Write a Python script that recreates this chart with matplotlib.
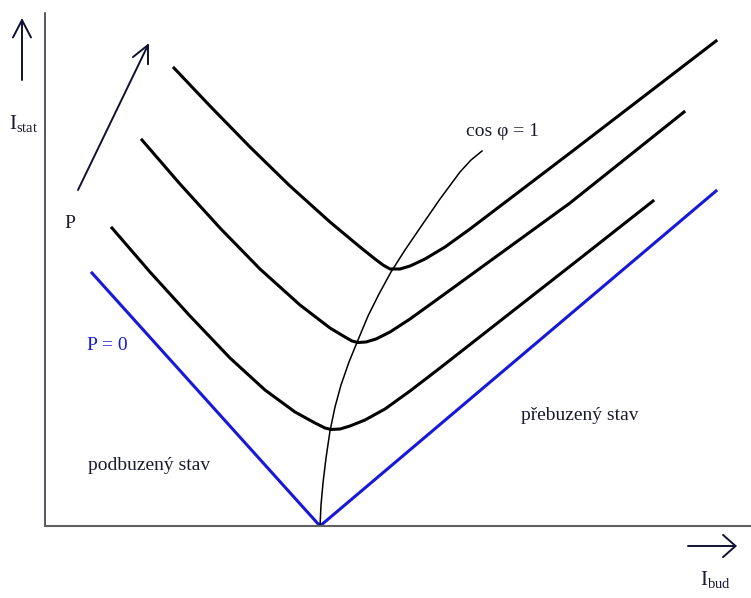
import matplotlib
matplotlib.use("Agg")
import matplotlib.pyplot as plt

plt.rcParams["font.family"] = ["Liberation Serif", "DejaVu Serif"]
plt.rcParams["mathtext.fontset"] = "custom"
plt.rcParams["mathtext.rm"] = "Liberation Serif"
plt.rcParams["mathtext.it"] = "Liberation Serif"

# V-curves of a synchronous machine: stator current vs. excitation current
# (arbitrary units)
p0_x = [4.7, 27.5, 67.1]
p0_y = [25.3, 0.0, 33.5]

p1_x = [6.7, 10.5, 14.5, 18.5, 22.0, 25.0, 27.0, 28.0, 28.6, 29.5, 30.5,
        32.0, 34.0, 36.5, 39.5, 53.3, 60.8]
p1_y = [29.8, 25.4, 21.0, 16.8, 13.6, 11.4, 10.3, 9.8, 9.65, 9.7, 10.0,
        10.6, 11.7, 13.5, 15.8, 26.6, 32.5]

p2_x = [9.7, 13.5, 17.5, 21.5, 25.5, 28.5, 30.0, 30.7, 31.3, 32.1, 33.1,
        34.5, 36.5, 39.0, 52.5, 63.9]
p2_y = [38.6, 34.2, 29.8, 25.7, 22.1, 19.8, 18.9, 18.5, 18.35, 18.4, 18.7,
        19.4, 20.7, 22.5, 32.3, 41.4]

p3_x = [12.9, 16.5, 20.5, 24.5, 28.5, 31.5, 33.0, 33.8, 34.5, 35.5, 36.5,
        38.0, 40.0, 42.5, 52.5, 67.1]
p3_y = [45.8, 42.0, 37.9, 34.0, 30.4, 27.9, 26.7, 26.1, 25.7, 25.7, 26.0,
        26.7, 27.9, 29.7, 37.3, 48.5]

# locus of unity power factor (minima of the V-curves)
cos1_x = [27.5, 27.6, 27.8, 28.1, 28.5, 29.0, 29.6, 30.4, 31.3, 32.3, 33.4,
          34.6, 36.0, 37.5, 39.5, 41.5, 42.6, 43.7]
cos1_y = [0.0, 2.1, 4.3, 6.8, 9.5, 11.9, 14.1, 16.4, 18.6, 21.0, 23.2,
          25.4, 27.6, 29.8, 32.7, 35.4, 36.6, 37.5]

W, H = 751, 598
fig = plt.figure(figsize=(W / 100, H / 100), dpi=100)


def fx(px):
    return px / W


def fy(py):
    return 1 - py / H


ax = fig.add_axes([fx(45), fy(526), fx(751) - fx(45), fy(13) - fy(526)])
ax.set_xlim(0, 70.6)
ax.set_ylim(0, 51.3)
for s in ("top", "right"):
    ax.spines[s].set_visible(False)
ax.spines["left"].set_color("#2a2a40")
ax.spines["left"].set_linewidth(1.1)
ax.spines["bottom"].set_color("#606060")
ax.spines["bottom"].set_linewidth(1.5)
ax.set_xticks([])
ax.set_yticks([])

blue = "#1818d8"
txt = "#1a1a30"

ax.plot(p0_x, p0_y, color=blue, lw=2.2, solid_joinstyle="miter")
for xs, ys in ((p1_x, p1_y), (p2_x, p2_y), (p3_x, p3_y)):
    ax.plot(xs, ys, color="black", lw=2.2, solid_joinstyle="round")
ax.plot(cos1_x, cos1_y, color="black", lw=1.1, solid_joinstyle="round")


def arrow(x0, y0, x1, y1, hl, hw):
    ax.annotate("", xy=(fx(x1), fy(y1)), xytext=(fx(x0), fy(y0)),
                xycoords="figure fraction", textcoords="figure fraction",
                arrowprops=dict(
                    arrowstyle=f"->,head_length={hl},head_width={hw}",
                    color="#101030", lw=1.4, shrinkA=0, shrinkB=0),
                annotation_clip=False)


# axis arrows and power arrow
arrow(22, 80, 22, 18, 1.25, 0.65)
arrow(688, 546, 737, 546, 0.9, 0.8)
arrow(78, 190, 149, 43, 1.25, 0.6)

fig.text(fx(9), fy(124), r"$\mathrm{I}_{\mathrm{stat}}$", fontsize=15,
         color=txt, ha="left", va="center")
fig.text(fx(700), fy(580), r"$\mathrm{I}_{\mathrm{bud}}$", fontsize=15,
         color=txt, ha="left", va="center")
fig.text(fx(70), fy(223), "P", fontsize=14, color=txt, ha="center", va="center")
fig.text(fx(107), fy(345), "P = 0", fontsize=14, color=blue, ha="center",
         va="center")
fig.text(fx(503), fy(131), "cos φ = 1", fontsize=14, color=txt, ha="center",
         va="center")
fig.text(fx(149), fy(466), "podbuzený stav", fontsize=14, color=txt,
         ha="center", va="center")
fig.text(fx(580), fy(415), "přebuzený stav", fontsize=14, color=txt,
         ha="center", va="center")

fig.savefig("out.png", dpi=100)
